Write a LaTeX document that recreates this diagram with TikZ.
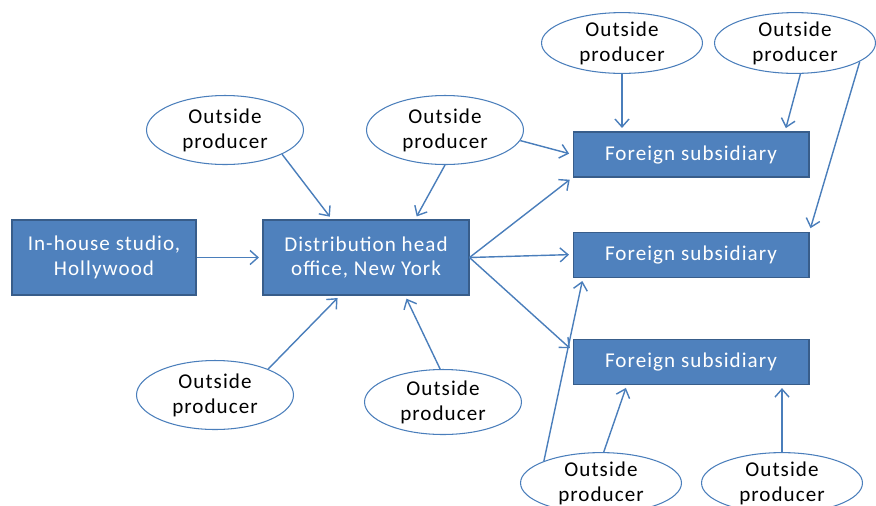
\documentclass[tikz,border=0pt]{standalone}
\usepackage{fontspec}
\setmainfont{Carlito}[LetterSpace=5]
\usetikzlibrary{positioning}
\usetikzlibrary{shapes}
\usetikzlibrary{arrows.meta}
\definecolor{myBlue}{RGB}{79,129,189}
\definecolor{myEdge}{RGB}{56,93,138}
\definecolor{myLine}{RGB}{74,126,187}

\begin{document}
\begin{tikzpicture}[x=0.02cm,y=-0.02cm,->,>={Straight Barb[length=4.5pt,width=8pt]},shorten >=2pt,
  line width=0.8pt,main box/.style={rectangle,fill=myBlue,draw=myEdge,line width=0.6pt,text=white,
  align=center,font=\fontsize{12}{14.2}\selectfont,minimum height=1.5cm},sub box/.style={rectangle,fill=myBlue,
  draw=myEdge,line width=0.6pt,text=white,font=\fontsize{12}{14.2}\selectfont,minimum width=4.72cm,
  minimum height=0.9cm},big oval/.style={ellipse,draw=myLine,fill=white,line width=0.6pt,inner sep=0pt,
  align=center,font=\fontsize{12}{14.2}\selectfont,minimum width=3.14cm,minimum height=1.38cm},small oval/.style={ellipse,
  draw=myLine,fill=white,line width=0.6pt,inner sep=0pt,align=center,font=\fontsize{12}{14.2}\selectfont,
  minimum width=3.22cm,minimum height=1.14cm}]

  \useasboundingbox (0,0) rectangle (876,505);

% The studio and the head office
  \node[main box,minimum width=4.12cm] (Office) at (366,257.5) {Distribution head\\office, New York};
  \node[main box,minimum width=3.68cm] (Studio) [left =1.32cm of Office] {In-house studio,\\Hollywood};
% The foreign subsidiaries
  \node[sub box] (F1) at (691,154.5) {Foreign subsidiary};
  \node[sub box] (F2) [below =1.08cm of F1] {Foreign subsidiary};
  \node[sub box] (F3) [below =1.22cm of F2] {Foreign subsidiary};
% The outside producers
  \node[big oval] (P1) at (225,130) {Outside\\producer};
  \node[big oval] (P2) at (445,130) {Outside\\producer};
  \node[small oval] (P3) at (622,43) {Outside\\producer};
  \node[small oval] (P4) at (795,43) {Outside\\producer};
  \node[big oval] (P5) at (215,395) {Outside\\producer};
  \node[big oval,minimum height=1.3cm] (P6) at (443,402) {Outside\\producer};
  \node[small oval] (P7) at (601,483) {Outside\\producer};
  \node[small oval] (P8) at (782,483) {Outside\\producer};
% The arrows between the nodes
 \path[myLine]
 (Studio) edge (Office)
 (P1.-23) edge ([xshift=-0.68cm]Office.north)
 (P2.south) edge ([xshift=0.98cm]Office.north)
 (P5.26) edge ([xshift=-0.52cm]Office.south)
 (P6.95) edge ([xshift=0.78cm]Office.south)
 (Office.east) edge (F1.south west)
 (Office.east) edge (F2.west)
 (Office.east) edge ([yshift=0.22cm]F3.west)
 (P2.-8) edge (F1.west)
 (P3.south) edge (P3.south |- F1.north)
 (P4.-80) edge ([xshift=1.88cm]F1.north)
 (P4.-16) edge (F2.north east)
 (P7.159) edge ([xshift=-2.16cm]F2.south)
 (P7.85) edge ([xshift=-1.28cm]F3.south)
 (P8.north) edge (P8.north |- F3.south);
\end{tikzpicture}
\end{document}
